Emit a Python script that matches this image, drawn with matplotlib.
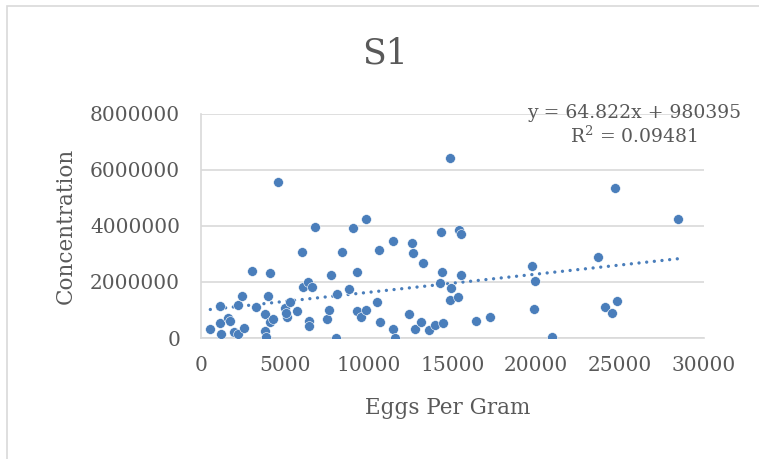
import numpy as np
import matplotlib
matplotlib.use("Agg")
import matplotlib.pyplot as plt
from matplotlib.patches import Rectangle

# ---------------------------------------------------------
# DATA
# ---------------------------------------------------------
eggs_per_gram = [
    557, 1155, 1195, 1155, 1633, 1713, 1952, 2230, 2550, 2230,
    2470, 3066, 3306, 3825, 3825, 3866, 3985, 4142, 4142, 4303,
    4582, 5020, 5139, 5060, 5300, 5737, 6096, 6375, 6614, 6017,
    6455, 6455, 6813, 7530, 7610, 7730, 8050, 8130, 8408, 8803,
    9084, 9280, 9320, 9520, 9840, 9840, 10480, 10637, 10680, 11434,
    11474, 11594, 12430, 12590, 12630, 12789, 13148, 13267, 13586, 13944,
    14263, 14343, 14383, 14462, 14860, 14880, 14940, 15300, 15360, 15480,
    15497, 16375, 17253, 19760, 19920, 19840, 20916, 23707, 24100, 24543,
    24820, 24720, 28428,
]
concentration = [
    330000, 1140000, 140000, 550000, 710000, 590000, 210000, 140000, 360000, 1160000,
    1490000, 2390000, 1110000, 850000, 240000, 20000, 1490000, 2320000, 570000, 660000,
    5570000, 1070000, 760000, 880000, 1300000, 950000, 1800000, 1990000, 1800000, 3060000,
    620000, 430000, 3960000, 660000, 1000000, 2250000, 0, 1560000, 3060000, 1750000,
    3910000, 2350000, 970000, 740000, 1000000, 4240000, 1280000, 3150000, 570000, 3440000,
    310000, 0, 850000, 3390000, 3030000, 310000, 570000, 2680000, 280000, 450000,
    1970000, 3770000, 2370000, 520000, 1350000, 6420000, 1780000, 1470000, 3840000, 3700000,
    2230000, 620000, 740000, 2580000, 2040000, 1020000, 20000, 2890000, 1090000, 900000,
    1330000, 5360000, 4240000,
]
x_ticks = [0, 5000, 10000, 15000, 20000, 25000, 30000]
y_ticks = [0, 2000000, 4000000, 6000000, 8000000]

# trendline as labelled on the chart
slope = 64.822
intercept = 980395
r_squared = 0.09481

# ---------------------------------------------------------
# PLOT
# ---------------------------------------------------------
plt.rcParams['font.family'] = ['DejaVu Serif']
plt.rcParams['mathtext.fontset'] = 'dejavuserif'
BLUE = '#4a7ebb'
GRID = '#d9d9d9'
TEXT = '#595959'

fig = plt.figure(figsize=(7.59, 4.59), dpi=100)
# chart-area border (only top and left edges fall inside the picture)
fig.patches.append(Rectangle((7 / 759, -0.05), 1.2, 1.05 - 6 / 459,
                             transform=fig.transFigure, fill=False,
                             edgecolor=GRID, linewidth=1.2))

ax = fig.add_axes([0.2648, 0.2636, 0.6627, 0.4891])
ax.scatter(eggs_per_gram, concentration, s=50, color=BLUE, zorder=3,
           edgecolors='white', linewidths=0.4)

x_fit = np.array([min(eggs_per_gram), max(eggs_per_gram)])
ax.plot(x_fit, slope * x_fit + intercept, color=BLUE, linestyle=(0, (0.01, 2.3)),
        linewidth=2.4, dash_capstyle='round', zorder=2)

ax.set_xlim(0, 30000)
ax.set_ylim(0, 8000000)
ax.set_xticks(x_ticks)
ax.set_yticks(y_ticks)
ax.set_xticklabels([str(t) for t in x_ticks])
ax.set_yticklabels([str(t) for t in y_ticks])
ax.tick_params(length=0, labelsize=14.5, labelcolor=TEXT)
ax.tick_params(axis='y', pad=15)
ax.tick_params(axis='x', pad=13)
ax.grid(axis='y', color=GRID, linewidth=1.2)
ax.set_axisbelow(True)
for side in ['top', 'right']:
    ax.spines[side].set_visible(False)
for side in ['left', 'bottom']:
    ax.spines[side].set_color(GRID)
    ax.spines[side].set_linewidth(1.2)

fig.text(385 / 759, 1 - 54 / 459, 'S1', ha='center', va='center', fontsize=25, color=TEXT)
fig.text(448 / 759, 1 - 408 / 459, 'Eggs Per Gram', ha='center', va='center',
         fontsize=15.5, color=TEXT)
fig.text(66 / 759, 1 - 226 / 459, 'Concentration', ha='center', va='center',
         rotation=90, fontsize=15.5, color=TEXT)
fig.text(634 / 759, 1 - 125 / 459,
         f'y = {slope}x + {intercept}\nR$^2$ = {r_squared}',
         ha='center', va='center', multialignment='center', fontsize=13.5,
         color=TEXT, linespacing=1.2)

fig.savefig('out.png', dpi=100)
